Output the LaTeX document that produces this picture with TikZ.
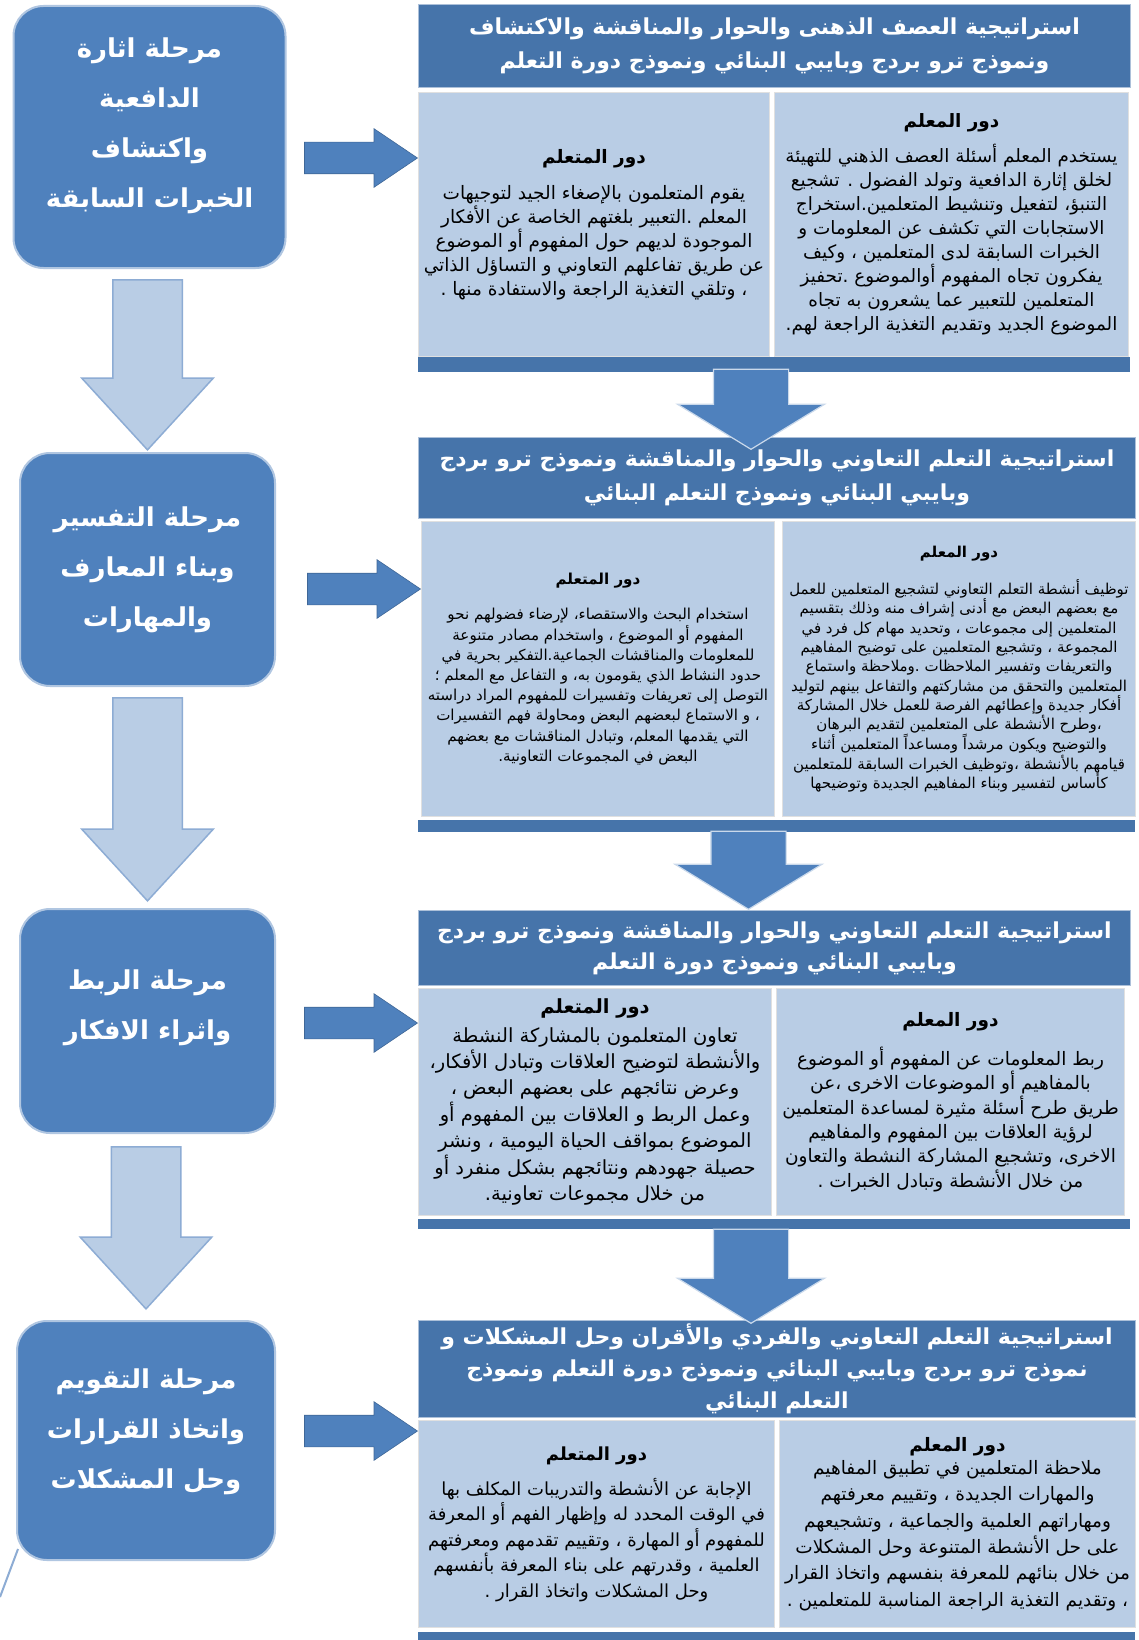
\documentclass[tikz,border=0pt]{standalone}
\usepackage{fontspec}
\newfontfamily\arabicfont[Script=Arabic]{DejaVu Sans}
\TeXXeTstate=1
\usetikzlibrary{positioning,shapes.arrows}
\definecolor{stageblue}{RGB}{79,129,189}
\definecolor{headblue}{RGB}{70,116,170}
\definecolor{colblue}{RGB}{185,205,229}
\definecolor{lineblue}{RGB}{141,172,212}
\newcommand{\rl}[1]{\beginR#1\endR}
\begin{document}
\begin{tikzpicture}[x=1pt,y=-1pt,
  stage/.style={rounded corners=30pt, fill=stageblue, draw=stageblue!45, line width=2pt, anchor=north west, inner sep=0pt},
  stagetext/.style={text=white, align=center, inner sep=0pt, font=\arabicfont\bfseries\fontsize{26}{50}\selectfont},
  header/.style={fill=headblue, draw=headblue!45, line width=1pt, text=white, align=center, anchor=north west, inner sep=0pt, font=\arabicfont\bfseries\fontsize{22}{33}\selectfont},
  role/.style={fill=colblue, draw=black!12, line width=1pt, align=center, anchor=north west, inner sep=0pt},
  bar/.style={fill=headblue, anchor=north west, inner sep=0pt},
  rightarr/.style={single arrow, fill=stageblue, draw=stageblue!80!black, line width=.6pt, inner xsep=0pt, inner ysep=15.5pt, single arrow head extend=13.5pt, minimum height=113pt, single arrow tip angle=68},
  darkdown/.style={single arrow, rotate=-90, fill=stageblue, draw=white!70!stageblue, line width=1.2pt, inner xsep=0pt, inner ysep=37pt, single arrow head extend=36pt, single arrow tip angle=117},
  paledown/.style={single arrow, rotate=-90, fill=colblue, draw=lineblue, line width=1.5pt, inner xsep=0pt, inner ysep=34pt, single arrow head extend=31pt, single arrow tip angle=85},
]
\useasboundingbox[fill=white] (0,0) rectangle (1139,1640);

% stages
\node[stage, minimum width=272pt, minimum height=262pt] (s1) at (12.5,5) {};
\node[stagetext] (s1t) at ([yshift=11pt]s1.center) {\rl{مرحلة اثارة}\\\rl{الدافعية}\\\rl{واكتشاف}\\\rl{الخبرات السابقة}};
\node[stage, minimum width=255pt, minimum height=233pt] (s2) at (19,452) {};
\node[stagetext] (s2t) at (s2.center) {\rl{مرحلة التفسير}\\\rl{وبناء المعارف}\\\rl{والمهارات}};
\node[stage, minimum width=255pt, minimum height=224pt] (s3) at (19,908) {};
\node[stagetext] (s3t) at ([yshift=13pt]s3.center) {\rl{مرحلة الربط}\\\rl{واثراء الافكار}};
\node[stage, minimum width=258pt, minimum height=239pt] (s4) at (16,1320) {};
\node[stagetext] (s4t) at ([yshift=9pt]s4.center) {\rl{مرحلة التقويم}\\\rl{واتخاذ القرارات}\\\rl{وحل المشكلات}};

% block 1
\node[header, minimum width=712pt, minimum height=83pt, font=\arabicfont\bfseries\fontsize{22}{34}\selectfont] (h1) at (418,4) {\rl{استراتيجية العصف الذهنى والحوار والمناقشة والاكتشاف}\\\rl{ونموذج ترو بردج وبايبي البنائي ونموذج دورة التعلم}};
\node[role, minimum width=351pt, minimum height=264pt, font=\arabicfont\fontsize{18.5}{24}\selectfont] (lm1) at (418,92) {{\bfseries\rl{دور المتعلم}}\\[12pt]
\rl{يقوم المتعلمون بالإصغاء الجيد لتوجيهات}\\
\rl{المعلم .التعبير بلغتهم الخاصة عن الأفكار}\\
\rl{الموجودة لديهم حول المفهوم أو الموضوع}\\
\rl{عن طريق تفاعلهم التعاوني و التساؤل الذاتي}\\
\rl{، وتلقي التغذية الراجعة والاستفادة منها .}};
\node[role, minimum width=354pt, minimum height=264pt, font=\arabicfont\fontsize{18.4}{24}\selectfont] (tc1) at (774,92) {{\bfseries\rl{دور المعلم}}\\[11pt]
\rl{يستخدم المعلم أسئلة العصف الذهني للتهيئة}\\
\rl{لخلق إثارة الدافعية وتولد الفضول . تشجيع}\\
\rl{التنبؤ، لتفعيل وتنشيط المتعلمين.استخراج}\\
\rl{الاستجابات التي تكشف عن المعلومات و}\\
\rl{الخبرات السابقة لدى المتعلمين ، وكيف}\\
\rl{يفكرون تجاه المفهوم أوالموضوع .تحفيز}\\
\rl{المتعلمين للتعبير عما يشعرون به تجاه}\\
\rl{الموضوع الجديد وتقديم التغذية الراجعة لهم.}};
\node[bar, minimum width=712pt, minimum height=15pt] (bar1) at (418,357) {};

% block 2
\node[header, minimum width=717pt, minimum height=81pt, font=\arabicfont\bfseries\fontsize{22}{34}\selectfont] (h2) at (418,437) {\rl{استراتيجية التعلم التعاوني والحوار والمناقشة ونموذج ترو بردج}\\\rl{وبايبي البنائي ونموذج التعلم البنائي}};
\node[role, minimum width=353pt, minimum height=295pt, font=\arabicfont\fontsize{15.1}{20.2}\selectfont] (lm2) at (421,521) {{\bfseries\rl{دور المتعلم}}\\[15pt]
\rl{استخدام البحث والاستقصاء، لإرضاء فضولهم نحو}\\
\rl{المفهوم أو الموضوع ، واستخدام مصادر متنوعة}\\
\rl{للمعلومات والمناقشات الجماعية.التفكير بحرية في}\\
\rl{حدود النشاط الذي يقومون به، و التفاعل مع المعلم ؛}\\
\rl{التوصل إلى تعريفات وتفسيرات للمفهوم المراد دراسته}\\
\rl{، و الاستماع لبعضهم البعض ومحاولة فهم التفسيرات}\\
\rl{التي يقدمها المعلم، وتبادل المناقشات مع بعضهم}\\
\rl{البعض في المجموعات التعاونية.}};
\node[role, minimum width=353pt, minimum height=295pt, font=\arabicfont\fontsize{15}{19.3}\selectfont] (tc2) at (782,521) {{\bfseries\rl{دور المعلم}}\\[18pt]
\rl{توظيف أنشطة التعلم التعاوني لتشجيع المتعلمين للعمل}\\
\rl{مع بعضهم البعض مع أدنى إشراف منه وذلك بتقسيم}\\
\rl{المتعلمين إلى مجموعات ، وتحديد مهام كل فرد في}\\
\rl{المجموعة ، وتشجيع المتعلمين على توضيح المفاهيم}\\
\rl{والتعريفات وتفسير الملاحظات .وملاحظة واستماع}\\
\rl{المتعلمين والتحقق من مشاركتهم والتفاعل بينهم لتوليد}\\
\rl{أفكار جديدة وإعطائهم الفرصة للعمل خلال المشاركة}\\
\rl{،وطرح الأنشطة على المتعلمين لتقديم البرهان}\\
\rl{والتوضيح ويكون مرشداً ومساعداً المتعلمين أثناء}\\
\rl{قيامهم بالأنشطة ،وتوظيف الخبرات السابقة للمتعلمين}\\
\rl{كأساس لتفسير وبناء المفاهيم الجديدة وتوضيحها}};
\node[bar, minimum width=717pt, minimum height=12pt] (bar2) at (418,820) {};

% block 3
\node[header, minimum width=712pt, minimum height=75pt, font=\arabicfont\bfseries\fontsize{22}{31}\selectfont] (h3) at (418,910) {\rl{استراتيجية التعلم التعاوني والحوار والمناقشة ونموذج ترو بردج}\\\rl{وبايبي البنائي ونموذج دورة التعلم}};
\node[role, minimum width=353pt, minimum height=227pt, font=\arabicfont\fontsize{19.5}{26.4}\selectfont] (lm3) at (418,988) {{\bfseries\rl{دور المتعلم}}\\[2pt]
\rl{تعاون المتعلمون بالمشاركة النشطة}\\
\rl{والأنشطة لتوضيح العلاقات وتبادل الأفكار،}\\
\rl{وعرض نتائجهم على بعضهم البعض ،}\\
\rl{وعمل الربط و العلاقات بين المفهوم أو}\\
\rl{الموضوع بمواقف الحياة اليومية ، ونشر}\\
\rl{حصيلة جهودهم ونتائجهم بشكل منفرد أو}\\
\rl{من خلال مجموعات تعاونية.}};
\node[role, minimum width=348pt, minimum height=227pt, font=\arabicfont\fontsize{18.5}{24.3}\selectfont] (tc3) at (776,988) {{\bfseries\rl{دور المعلم}}\\[15pt]
\rl{ربط المعلومات عن المفهوم أو الموضوع}\\
\rl{بالمفاهيم أو الموضوعات الاخرى ،عن}\\
\rl{طريق طرح أسئلة مثيرة لمساعدة المتعلمين}\\
\rl{لرؤية العلاقات بين المفهوم والمفاهيم}\\
\rl{الاخرى، وتشجيع المشاركة النشطة والتعاون}\\
\rl{من خلال الأنشطة وتبادل الخبرات .}};
\node[bar, minimum width=712pt, minimum height=10pt] (bar3) at (418,1219) {};

% block 4
\node[header, minimum width=717pt, minimum height=97pt, font=\arabicfont\bfseries\fontsize{22}{32}\selectfont] (h4) at (418,1320) {\rl{استراتيجية التعلم التعاوني والفردي والأقران وحل المشكلات و}\\\rl{نموذج ترو بردج وبايبي البنائي ونموذج دورة التعلم ونموذج}\\\rl{التعلم البنائي}};
\node[role, minimum width=356pt, minimum height=207pt, font=\arabicfont\fontsize{18}{25.4}\selectfont] (lm4) at (418,1420) {{\bfseries\rl{دور المتعلم}}\\[10pt]
\rl{الإجابة عن الأنشطة والتدريبات المكلف بها}\\
\rl{في الوقت المحدد له وإظهار الفهم أو المعرفة}\\
\rl{للمفهوم أو المهارة ، وتقييم تقدمهم ومعرفتهم}\\
\rl{العلمية ، وقدرتهم على بناء المعرفة بأنفسهم}\\
\rl{وحل المشكلات واتخاذ القرار .}};
\node[role, minimum width=356pt, minimum height=207pt, font=\arabicfont\fontsize{18.5}{26.3}\selectfont] (tc4) at (779,1420) {{\bfseries\rl{دور المعلم}}\\[-3pt]
\rl{ملاحظة المتعلمين في تطبيق المفاهيم}\\
\rl{والمهارات الجديدة ، وتقييم معرفتهم}\\
\rl{ومهاراتهم العلمية والجماعية ، وتشجيعهم}\\
\rl{على حل الأنشطة المتنوعة وحل المشكلات}\\
\rl{من خلال بنائهم للمعرفة بنفسهم واتخاذ القرار}\\
\rl{، وتقديم التغذية الراجعة المناسبة للمتعلمين .}};
\node[bar, minimum width=717pt, minimum height=8pt] (bar4) at (418,1632) {};

% arrows stage -> block
\path ([yshift=-21pt]s1.east) -- node[rightarr, at end, anchor=tip] (ra1) {} ([yshift=-21pt]s1.east -| lm1.west);
\path ([yshift=-19.5pt]s2.east) -- node[rightarr, at end, anchor=tip] (ra2) {} ([yshift=-19.5pt]s2.east -| lm2.west);
\path ([yshift=-2pt]s3.east) -- node[rightarr, at end, anchor=tip] (ra3) {} ([yshift=-2pt]s3.east -| lm3.west);
\path ([yshift=9.5pt]s4.east) -- node[rightarr, at end, anchor=tip] (ra4) {} ([yshift=9.5pt]s4.east -| lm4.west);

% arrows stage -> stage
\path (s1) -- node[paledown, minimum height=170pt, at end, anchor=tip] (pa1) {} ([yshift=1pt]s2.north);
\path (s2) -- node[paledown, minimum height=203pt, at end, anchor=tip] (pa2) {} ([yshift=6pt]s3.north);
\path (s3) -- node[paledown, minimum height=162pt, at end, anchor=tip] (pa3) {} ([yshift=10pt]s4.north);
\draw[lineblue, line width=2pt] (s4.south west) ++(2,-12) -- ++(-18,48);

% arrows block -> block
\path ([xshift=-26pt]bar1.south) -- node[darkdown, minimum height=80pt, at end, anchor=tip] (da1) {} ([xshift=-26pt,yshift=-13pt]h2.north);
\path ([xshift=-26pt]bar2.south) -- node[darkdown, minimum height=78pt, at end, anchor=tip] (da2) {} ([xshift=-26pt]h3.north);
\path ([xshift=-26pt]bar3.south) -- node[darkdown, minimum height=94pt, at end, anchor=tip] (da3) {} ([xshift=-26pt,yshift=-4pt]h4.north);
\end{tikzpicture}
\end{document}
